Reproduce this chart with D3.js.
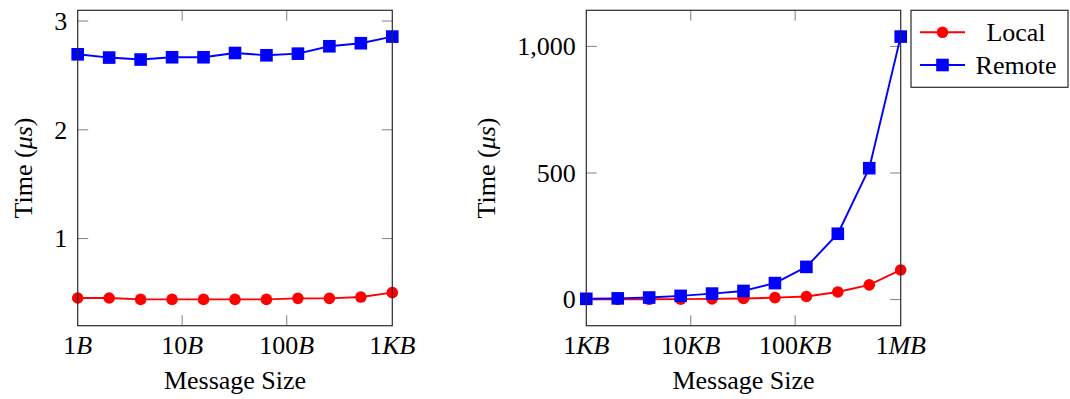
<!DOCTYPE html>
<html>
<head>
<meta charset="utf-8">
<script src="https://cdn.jsdelivr.net/npm/d3@7"></script>
<style>
  html, body { margin: 0; padding: 0; background: #fff; }
  svg { display: block; }
  svg text, svg tspan { font-family: "Liberation Serif", "Times New Roman", Tinos, serif !important; }
</style>
</head>
<body>
<svg id="chart" width="1070" height="399" font-family="Liberation Serif"></svg>
<script>
// ---- Data ----
// Left panel: message sizes in bytes
const sizesBytes = [1, 2, 4, 8, 16, 32, 64, 128, 256, 512, 1024];
const localSmall  = [0.453, 0.453, 0.440, 0.440, 0.440, 0.440, 0.440, 0.450, 0.450, 0.462, 0.502];
const remoteSmall = [2.694, 2.664, 2.646, 2.667, 2.667, 2.706, 2.685, 2.700, 2.768, 2.796, 2.857];

// Right panel: message sizes in KB
const sizesKB = [1, 2, 4, 8, 16, 32, 64, 128, 256, 512, 1024];
const localLarge  = [0.5, 0.7, 1.0, 1.6, 2.6, 4.2, 7.5, 12, 30, 58, 117];
const remoteLarge = [2.86, 4.6, 8, 14.5, 23.5, 34, 65, 129, 260, 519, 1039];

// Tick values / labels
const xTicksLeft  = [1, 10, 100, 1024];
const xLabelsLeft = [["1", "B"], ["10", "B"], ["100", "B"], ["1", "KB"]];
const yTicksLeft  = [1, 2, 3];

const xTicksRight  = [1, 10, 100, 1024];
const xLabelsRight = [["1", "KB"], ["10", "KB"], ["100", "KB"], ["1", "MB"]];
const yTicksRight  = [0, 500, 1000];

const seriesNames = ["Local", "Remote"];
const seriesColors = ["#ff0000", "#0000ff"];

// ---- Drawing ----
const svg = d3.select("#chart");
const FS = 26;
const TICK = 10.5;

function txt(sel) {
  return sel.append("text")
    .style("font-family", "'Liberation Serif', 'Times New Roman', Tinos, serif")
    .attr("font-size", FS).attr("fill", "#000");
}

function drawPanel(opts) {
  const { x0, x1, y0, y1, sizes, series, xTicks, xLabels, yTicks, yFormat, ylabelX } = opts;
  const all = series.flat();
  const mn = d3.min(all), mx = d3.max(all);
  const pad = 0.1 * (mx - mn);
  const x = d3.scaleLog().domain([1, 1024]).range([x0, x1]);
  const y = d3.scaleLinear().domain([mn - pad, mx + pad]).range([y1, y0]);

  const g = svg.append("g");

  // tick marks (inward, both sides), gray
  const tickG = g.append("g").attr("stroke", "#8c8c8c").attr("stroke-width", 1.1);
  xTicks.filter(t => t > 1 && t < 1024).forEach(t => {
    tickG.append("line").attr("x1", x(t)).attr("x2", x(t)).attr("y1", y1).attr("y2", y1 - TICK);
    tickG.append("line").attr("x1", x(t)).attr("x2", x(t)).attr("y1", y0).attr("y2", y0 + TICK);
  });
  yTicks.forEach(t => {
    tickG.append("line").attr("x1", x0).attr("x2", x0 + TICK).attr("y1", y(t)).attr("y2", y(t));
    tickG.append("line").attr("x1", x1).attr("x2", x1 - TICK).attr("y1", y(t)).attr("y2", y(t));
  });

  // series lines and markers
  const line = d3.line().x((d, i) => x(sizes[i])).y(d => y(d));
  series.forEach((vals, si) => {
    g.append("path").datum(vals)
      .attr("d", line)
      .attr("fill", "none")
      .attr("stroke", seriesColors[si])
      .attr("stroke-width", 1.9)
      .attr("stroke-linejoin", "round");
  });
  series.forEach((vals, si) => {
    if (si === 0) {
      g.selectAll(null).data(vals).enter().append("circle")
        .attr("cx", (d, i) => x(sizes[i])).attr("cy", d => y(d))
        .attr("r", 5.8).attr("fill", seriesColors[si]);
    } else {
      const s = 12.6;
      g.selectAll(null).data(vals).enter().append("rect")
        .attr("x", (d, i) => x(sizes[i]) - s / 2).attr("y", d => y(d) - s / 2)
        .attr("width", s).attr("height", s).attr("fill", seriesColors[si]);
    }
  });

  // frame
  g.append("rect").attr("x", x0).attr("y", y0).attr("width", x1 - x0).attr("height", y1 - y0)
    .attr("fill", "none").attr("stroke", "#2b2b2b").attr("stroke-width", 1.2);

  // y tick labels
  yTicks.forEach(t => {
    txt(g).attr("x", x0 - 10.5).attr("y", y(t)).attr("dy", "0.34em")
      .attr("text-anchor", "end").text(yFormat(t));
  });

  // x tick labels (number roman, unit italic as in math mode)
  xTicks.forEach((t, i) => {
    const tx = txt(g).attr("x", x(t)).attr("y", 354).attr("text-anchor", "middle");
    tx.append("tspan").text(xLabels[i][0]);
    tx.append("tspan").attr("font-style", "italic").text(xLabels[i][1]);
  });

  // x axis label
  txt(g).attr("x", (x0 + x1) / 2).attr("y", 389).attr("text-anchor", "middle")
    .text("Message Size");

  // y axis label
  const yl = txt(g)
    .attr("transform", `translate(${ylabelX},${(y0 + y1) / 2}) rotate(-90)`)
    .attr("text-anchor", "middle");
  yl.append("tspan").text("Time (");
  yl.append("tspan").attr("font-style", "italic").text("μs");
  yl.append("tspan").text(")");
}

drawPanel({
  x0: 77.7, x1: 392.3, y0: 10.3, y1: 325.7,
  sizes: sizesBytes, series: [localSmall, remoteSmall],
  xTicks: xTicksLeft, xLabels: xLabelsLeft, yTicks: yTicksLeft,
  yFormat: d3.format("d"), ylabelX: 32
});

drawPanel({
  x0: 586.3, x1: 900.7, y0: 10.3, y1: 325.7,
  sizes: sizesKB, series: [localLarge, remoteLarge],
  xTicks: xTicksRight, xLabels: xLabelsRight, yTicks: yTicksRight,
  yFormat: d3.format(","), ylabelX: 495
});

// ---- Legend ----
const lg = svg.append("g");
lg.append("rect").attr("x", 911).attr("y", 10.3).attr("width", 157).attr("height", 77)
  .attr("fill", "#fff").attr("stroke", "#2b2b2b").attr("stroke-width", 1.2);
seriesNames.forEach((name, i) => {
  const cy = i === 0 ? 32.3 : 65;
  lg.append("line").attr("x1", 920).attr("x2", 965).attr("y1", cy).attr("y2", cy)
    .attr("stroke", seriesColors[i]).attr("stroke-width", 1.9);
  if (i === 0) {
    lg.append("circle").attr("cx", 942.5).attr("cy", cy).attr("r", 5.8).attr("fill", seriesColors[i]);
  } else {
    lg.append("rect").attr("x", 942.5 - 6.3).attr("y", cy - 6.3).attr("width", 12.6).attr("height", 12.6)
      .attr("fill", seriesColors[i]);
  }
  txt(lg).attr("x", 1016).attr("y", cy).attr("dy", "0.34em")
    .attr("text-anchor", "middle").text(name);
});
</script>
</body>
</html>
